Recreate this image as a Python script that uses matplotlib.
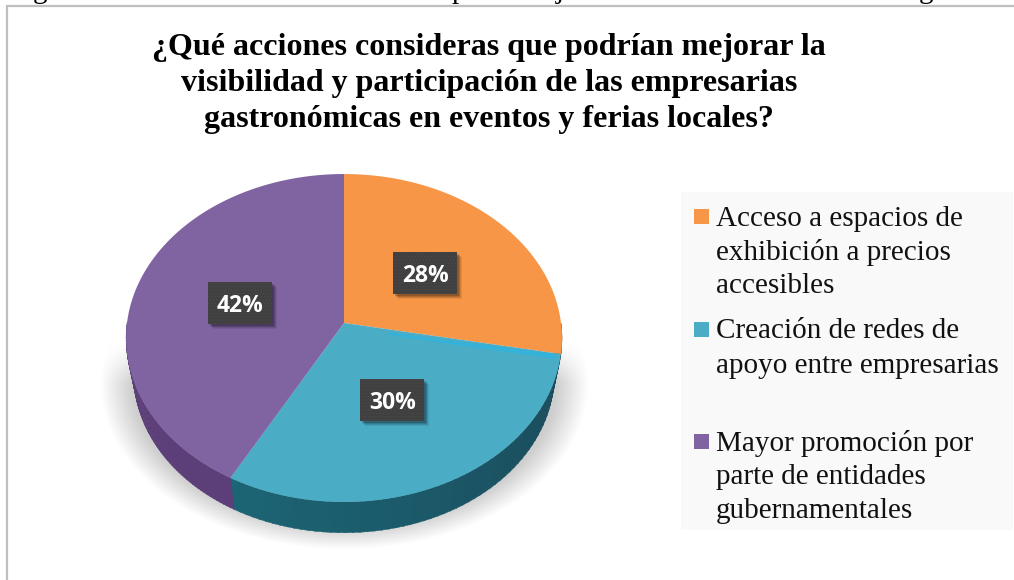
import numpy as np
import matplotlib
matplotlib.use('Agg')
import matplotlib.pyplot as plt
from matplotlib.patches import Rectangle

W, H = 1014, 580

title_lines = ['¿Qué acciones consideras que podrían mejorar la',
               'visibilidad y participación de las empresarias',
               'gastronómicas en eventos y ferias locales?']
categories = [['Acceso a espacios de', 'exhibición a precios', 'accesibles'],
              ['Creación de redes de', 'apoyo entre empresarias'],
              ['Mayor promoción por', 'parte de entidades', 'gubernamentales']]
values = [28, 30, 42]
top_colors = ['#F79646', '#4BACC6', '#8064A2']
side_start = ['#B56A2C', '#1C6575', '#5C3F78']
side_end = ['#B56A2C', '#1A4A5A', '#573A70']

cx, cy = 344, 323      # apex of the pie in pixels
k = 0.0915             # perspective, the far side of the pie looks smaller
ay, ax_r = 162.6, 217


def project(theta, r=1.0, ox=cx, oy=cy, s=1.0):
    # theta is measured clockwise from the top of the pie
    u = r * np.sin(theta)
    v = r * np.cos(theta)
    d = 1 + k * v
    return ox + s * ax_r * u / d, oy - s * ay * v / d


def mix(c1, c2, t):
    a = np.array(matplotlib.colors.to_rgb(c1))
    b = np.array(matplotlib.colors.to_rgb(c2))
    return a + (b - a) * t


fig = plt.figure(figsize=(W / 100, H / 100), dpi=100)
ax = fig.add_axes([0, 0, 1, 1])
ax.set_xlim(0, W)
ax.set_ylim(H, 0)
ax.axis('off')

# line of the page above the chart, only the descenders are left
for x, ch in zip([40, 459, 560, 926], ['g', 'p', 'j', 'g']):
    ax.text(x, -2, ch, family='Liberation Serif', fontsize=21, ha='center', va='baseline', clip_on=True)

# chart frame
ax.plot([7, 7, W], [H, 5.5, 5.5], color='#BFBFBF', lw=1.6, solid_joinstyle='miter')

# title
for y, line in zip([55, 91, 127], title_lines):
    ax.text(489, y, line, family='Liberation Serif', weight='bold', fontsize=23, ha='center', va='baseline')

# soft shadow under the pie
yy, xx = np.mgrid[330:560, 90:600]
dist = np.sqrt(((xx - 344) / 228.0) ** 2 + ((yy - 384) / 154.0) ** 2)
fade = np.clip((1.07 - dist) / 0.14, 0, 1) * np.clip((yy - 342) / 40.0, 0, 1)
shadow = np.zeros(xx.shape + (4,))
shadow[..., :3] = 0.78
shadow[..., 3] = fade * 0.85
ax.imshow(shadow, extent=(90, 600, 560, 330), aspect='auto', zorder=1)
ax.set_xlim(0, W)
ax.set_ylim(H, 0)

# slices
edges = np.cumsum([0] + values) / np.sum(values) * 2 * np.pi

# side of the pie, only for the part that faces us
for i in range(len(values)):
    a0 = max(edges[i], np.pi / 2)
    a1 = min(edges[i + 1], 3 * np.pi / 2)
    if a1 <= a0:
        continue
    steps = np.linspace(a0, a1, 60)
    for j in range(len(steps) - 1):
        th = np.array([steps[j], steps[j + 1] + 0.005])
        x1, y1 = project(th)
        x2, y2 = project(th, ox=cx, oy=360, s=0.965)
        t = 1 - j / 59 if i == 1 else 0
        ax.fill(np.r_[x1, x2[::-1]], np.r_[y1, y2[::-1]],
                color=mix(side_start[i], side_end[i], t), lw=0.3, zorder=2)

# top of the pie
for i in range(len(values)):
    th = np.linspace(edges[i], edges[i + 1], 200)
    x, y = project(th)
    ax.fill(np.r_[cx, x], np.r_[cy, y], color=top_colors[i], lw=0, zorder=3)

# brighter streak on the blue slice, just under the orange one
bx1, by1 = project(np.array([edges[1] + 0.09, edges[1] + 0.005, edges[1] + 0.035, edges[1] + 0.16]),
                   r=np.array([0.22, 0.98, 0.98, 0.22]))
ax.fill(bx1, by1, color='#35B2DA', lw=0, zorder=3)

# data labels
plt.rcParams['hatch.linewidth'] = 0.5
for i in range(len(values)):
    mid = (edges[i] + edges[i + 1]) / 2
    x, y = project(mid, r=0.5)
    for off, alpha in [(5, 0.07), (4, 0.10), (3, 0.14), (2, 0.18)]:
        ax.add_patch(Rectangle((x - 32 + off, y - 21 + off), 64, 42, color='black', alpha=alpha, lw=0, zorder=4))
    ax.add_patch(Rectangle((x - 32, y - 21), 64, 42, facecolor='#404040', edgecolor='#4A4A4A', hatch='.....', lw=0, zorder=5))
    ax.text(x, y + 3, '%d%%' % values[i], family='Open Sans', weight='bold', fontsize=16.5, color='white',
            ha='center', va='center', zorder=6)

# legend
ax.add_patch(Rectangle((681, 192), 332, 338, color='#F9F9F9', lw=0, zorder=1))
first_baselines = [226, 338, 451]
line_gap = [33.5, 35, 33.5]
swatch_tops = [209, 322, 434]
for i in range(len(categories)):
    ax.add_patch(Rectangle((694, swatch_tops[i]), 15, 15, color=top_colors[i], lw=0, zorder=2))
    for j, line in enumerate(categories[i]):
        ax.text(716, first_baselines[i] + j * line_gap[i], line, family='Liberation Serif', fontsize=21,
                ha='left', va='baseline', color='#111111', zorder=3)

fig.savefig('out.png', dpi=100)
